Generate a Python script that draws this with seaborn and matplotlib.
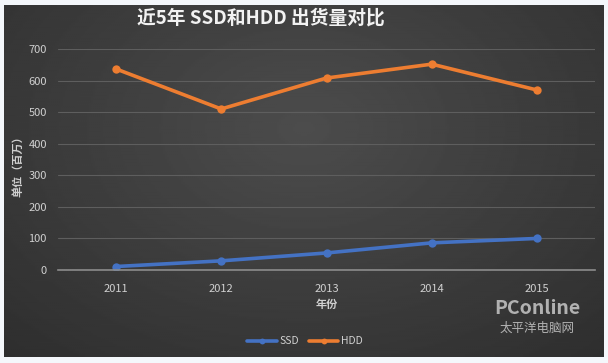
import numpy as np
import pandas as pd
import seaborn as sns
import matplotlib.pyplot as plt

# 数据
years = [2011, 2012, 2013, 2014, 2015]
ssd = [11, 29, 54, 86, 100]
hdd = [637, 510, 608, 652, 570]
series_names = ["SSD", "HDD"]
series_colors = ["#4472c4", "#ed7d31"]

df = pd.DataFrame({
    "年份": years * 2,
    "出货量": ssd + hdd,
    "类型": ["SSD"] * len(years) + ["HDD"] * len(years),
})

sns.set_theme(style="dark")
plt.rcParams["font.family"] = ["Noto Sans CJK SC", "DejaVu Sans"]

W, H = 608, 363
fig = plt.figure(figsize=(W / 100, H / 100), dpi=100, facecolor="#f4f7fb")

# 深色渐变背景面板
bg = fig.add_axes([4 / W, 6 / H, 600 / W, 352 / H], zorder=-10)
gy, gx = np.mgrid[0:1:200j, 0:1:300j]
r = np.sqrt(((gx - 0.5) / 0.75) ** 2 + ((gy - 0.35) / 0.9) ** 2)
shade = np.clip(0.30 - 0.12 * r, 0.17, 0.30)
bg.imshow(shade, cmap="gray", vmin=0, vmax=1, aspect="auto", interpolation="bilinear")
bg.set_axis_off()

ax = fig.add_axes([58 / W, (H - 270) / H, 537 / W, 221 / H])
ax.set_facecolor("none")

sns.lineplot(data=df, x="年份", y="出货量", hue="类型", hue_order=series_names,
             palette=series_colors, marker="o", markersize=6, markeredgewidth=0,
             linewidth=2.6, ax=ax)

ax.set_ylim(0, 700)
ax.set_yticks(range(0, 701, 100))
ax.set_xlim(2010.45, 2015.55)
ax.set_xticks(years)
ax.grid(axis="y", color="#5e5e5e", linewidth=0.8)
ax.grid(axis="x", visible=False)
for s in ["top", "right", "left"]:
    ax.spines[s].set_visible(False)
ax.spines["bottom"].set_color("#8c8c8c")
ax.spines["bottom"].set_linewidth(1.2)
ax.tick_params(colors="#d0d0d0", labelsize=8, length=0, pad=10)
ax.tick_params(axis="y", pad=8)

ax.set_xlabel("年份", color="#d0d0d0", fontsize=8, fontweight="bold", labelpad=3)
ax.set_ylabel("单位（百万）", color="#d0d0d0", fontsize=8, fontweight="bold")
ax.yaxis.set_label_coords(-0.062, 0.48)

fig.text(261 / W, 1 - 18 / H, "近5年 SSD和HDD 出货量对比", ha="center", va="center",
         color="#f2f2f2", fontsize=13.5, fontweight="bold")

leg = ax.legend(loc="center", bbox_to_anchor=(0.46, -0.322), ncol=2, frameon=False,
                fontsize=7.5, handlelength=2.8, columnspacing=1.0, handletextpad=0.25,
                markerscale=0.7)
for t in leg.get_texts():
    t.set_color("#d0d0d0")

# 水印
fig.text(537 / W, 1 - 309 / H, "PConline", ha="center", va="center", color="#c8c8c8",
         fontsize=14, fontweight="bold", alpha=0.85)
fig.text(537 / W, 1 - 328 / H, "太平洋电脑网", ha="center", va="center", color="#c8c8c8",
         fontsize=9, alpha=0.85)

fig.savefig("out.png", dpi=100, facecolor=fig.get_facecolor())
